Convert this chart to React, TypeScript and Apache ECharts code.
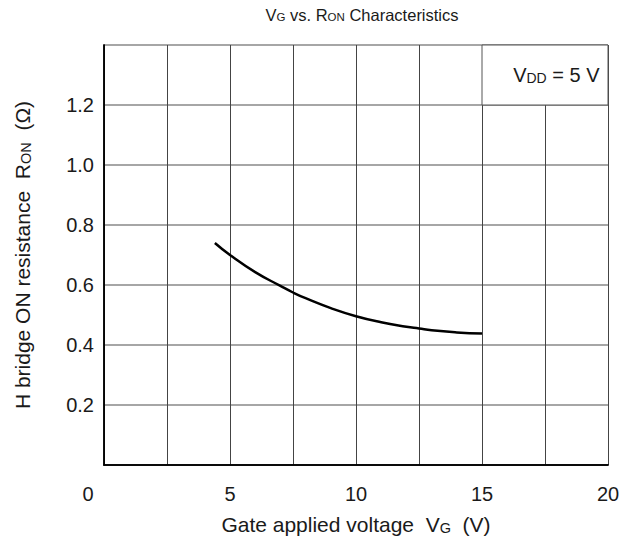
import React, { useEffect, useRef } from "react";
import * as echarts from "echarts";

const vgValues = [4.4, 5, 6, 7, 7.5, 8, 9, 10, 11, 12, 12.5, 13, 14, 15];
const ronValues = [0.74, 0.70, 0.643, 0.597, 0.575, 0.556, 0.523, 0.496, 0.476, 0.461, 0.455, 0.449, 0.442, 0.438];
const xTickLabels = ["0", "5", "10", "15", "20"];
const yTickLabels = ["0.2", "0.4", "0.6", "0.8", "1.0", "1.2"];
const conditionLabel = "V{s|DD} = 5 V";
const FONT = "'Liberation Sans', Arial, sans-serif";
const INK = "#1a1a1a";

export default function App() {
  const ref = useRef<HTMLDivElement>(null);
  useEffect(() => {
    if (!ref.current) return;
    const chart = echarts.init(ref.current, null, { renderer: "svg" });
    const data = vgValues.map((v, i) => [v, ronValues[i]]);
    const sub = { fontSize: 14, color: INK, fontFamily: FONT, verticalAlign: "bottom" };
    const nameSub = { fontSize: 14.5, color: INK, fontFamily: FONT, verticalAlign: "bottom" };
    chart.setOption({
      animation: false,
      textStyle: { fontFamily: FONT },
      title: {
        text: "{m|V}{s|G}{m| vs. R}{s|ON}{m| Characteristics}",
        left: 357,
        textAlign: "center",
        top: 1,
        textStyle: {
          fontWeight: "normal",
          rich: {
            m: { fontSize: 16.5, color: INK, fontFamily: FONT, verticalAlign: "bottom" },
            s: { fontSize: 11.5, color: INK, fontFamily: FONT, verticalAlign: "bottom" },
          },
        },
      },
      grid: { left: 104, right: 30, top: 45, bottom: 76 },
      xAxis: [
        {
          type: "value",
          position: "bottom",
          min: 0,
          max: 20,
          interval: 2.5,
          axisLine: { show: true, lineStyle: { color: "#000", width: 1.5 } },
          axisTick: { show: false },
          splitLine: { show: true, lineStyle: { color: "#444", width: 1 } },
          axisLabel: {
            margin: 19,
            fontSize: 20,
            color: INK,
            fontFamily: FONT,
            formatter: (v: number) => {
              const s = String(v);
              if (!xTickLabels.includes(s)) return "";
              if (s === "0") return "{z|0}";
              return s;
            },
            rich: { z: { fontSize: 20, color: INK, fontFamily: FONT, padding: [0, 32, 0, 0] } },
          },
          name: "Gate applied voltage  V{s|G}  (V)",
          nameLocation: "middle",
          nameGap: 49,
          nameTextStyle: { fontSize: 21, color: INK, fontFamily: FONT, rich: { s: nameSub } },
        },
        {
          type: "value",
          position: "top",
          min: 0,
          max: 20,
          z: 10,
          axisLine: { show: true, lineStyle: { color: "#000", width: 1.5 } },
          axisTick: { show: false },
          axisLabel: { show: false },
          splitLine: { show: false },
        },
      ],
      yAxis: [
        {
          type: "value",
          position: "left",
          min: 0,
          max: 1.4,
          interval: 0.2,
          axisLine: { show: true, lineStyle: { color: "#000", width: 1.5 } },
          axisTick: { show: false },
          splitLine: { show: true, lineStyle: { color: "#888", width: 1.5 } },
          axisLabel: {
            margin: 10,
            fontSize: 20,
            color: INK,
            fontFamily: FONT,
            formatter: (v: number) => {
              const s = v.toFixed(1);
              return yTickLabels.includes(s) ? s : "";
            },
          },
          name: "H bridge ON resistance  R{s|ON}  (Ω)",
          nameLocation: "middle",
          nameGap: 71,
          nameTextStyle: { fontSize: 21, color: INK, fontFamily: FONT, rich: { s: nameSub } },
        },
        {
          type: "value",
          position: "right",
          min: 0,
          max: 1.4,
          z: 10,
          axisLine: { show: true, lineStyle: { color: "#000", width: 1.5 } },
          axisTick: { show: false },
          axisLabel: { show: false },
          splitLine: { show: false },
        },
      ],
      series: [
        {
          type: "line",
          data,
          smooth: true,
          showSymbol: false,
          symbol: "none",
          lineStyle: { color: "#000", width: 2.5 },
          markArea: {
            silent: true,
            itemStyle: { color: "#fff", borderColor: "#555", borderWidth: 1 },
            label: {
              show: true,
              position: "insideRight",
              distance: 9,
              formatter: conditionLabel,
              fontSize: 20,
              color: INK,
              fontFamily: FONT,
              rich: { s: sub },
            },
            data: [[{ coord: [15, 1.2] }, { coord: [20, 1.4] }]],
          },
        },
      ],
    });
    return () => chart.dispose();
  }, []);
  return <div ref={ref} style={{ position: "absolute", left: 0, top: 0, width: 638, height: 541 }} />;
}
